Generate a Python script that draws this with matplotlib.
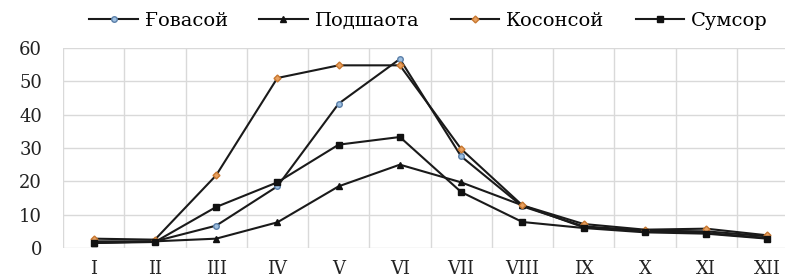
import matplotlib
matplotlib.use("Agg")
import matplotlib.pyplot as plt
import numpy as np

# Month labels and series values
months = ["I", "II", "III", "IV", "V", "VI", "VII", "VIII", "IX", "X", "XI", "XII"]
govasoy = [2.0, 2.0, 6.7, 18.5, 43.3, 56.7, 27.5, 12.5, 6.5, 5.2, 5.0, 3.5]
podshaota = [1.5, 2.0, 2.8, 7.7, 18.5, 25.0, 19.7, 12.8, 6.2, 5.2, 4.5, 3.0]
kosonsoy = [2.8, 2.5, 21.8, 51.0, 54.8, 54.8, 29.7, 12.8, 7.2, 5.5, 5.8, 3.8]
sumsor = [1.5, 1.8, 12.3, 19.7, 31.0, 33.3, 16.8, 7.8, 6.0, 4.7, 4.3, 2.8]

plt.rcParams['font.family'] = ['DejaVu Serif']

fig = plt.figure(figsize=(7.85, 2.78), dpi=100)
ax = fig.add_axes([63 / 785, 30 / 278, 735 / 785, 200 / 278])

x = np.arange(len(months))
line_col = "#1a1a1a"
ax.plot(x, govasoy, color=line_col, lw=1.5, marker="o", ms=4,
        mfc="#9dbfe0", mec="#5b7fa8", label="Ғовасой")
ax.plot(x, podshaota, color=line_col, lw=1.5, marker="^", ms=5,
        mfc="#111111", mec="#111111", label="Подшаота")
ax.plot(x, kosonsoy, color=line_col, lw=1.5, marker="D", ms=3.5,
        mfc="#e8a060", mec="#c87830", label="Косонсой")
ax.plot(x, sumsor, color=line_col, lw=1.5, marker="s", ms=4,
        mfc="#111111", mec="#111111", label="Сумсор")

ax.set_xlim(-0.5, 11.5)
ax.set_ylim(0, 60)
ax.set_yticks(range(0, 61, 10))
ax.set_xticks(x)
ax.set_xticklabels(months)
ax.set_xticks(np.arange(-0.5, 12, 1), minor=True)

ax.grid(axis="y", color="#d9d9d9", lw=1)
ax.grid(axis="x", which="minor", color="#d9d9d9", lw=1)
ax.set_axisbelow(True)
for s in ax.spines.values():
    s.set_visible(False)
ax.tick_params(which="both", length=0, labelsize=13, colors="#222222")
ax.tick_params(axis="y", pad=15)
ax.tick_params(axis="x", pad=9)

fig.legend(loc="center", bbox_to_anchor=(0.546, 0.925), ncol=4, frameon=False,
           fontsize=14, handlelength=2.5, columnspacing=1.6, handletextpad=0.36)

plt.savefig("out.png", dpi=100)
